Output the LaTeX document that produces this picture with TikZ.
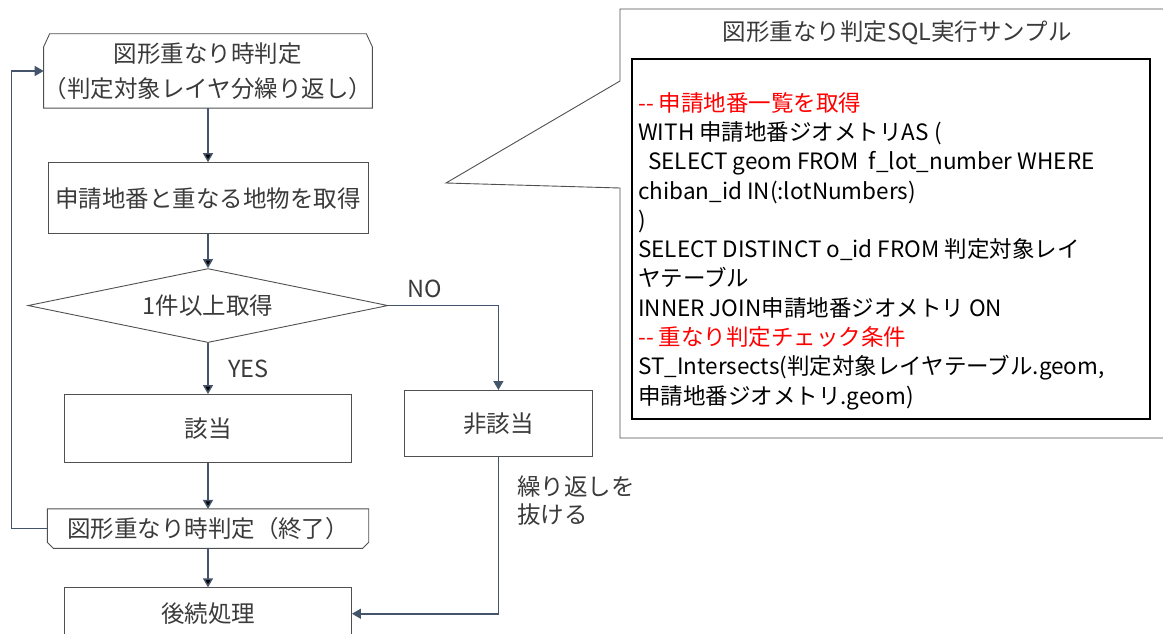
\documentclass[tikz,border=0pt]{standalone}
\usepackage{xcolor}
\usepackage{fontspec}
\setmainfont{Noto Sans CJK JP}
\usetikzlibrary{positioning,arrows.meta,shapes.geometric}

\definecolor{linkblue}{HTML}{44546A}
\definecolor{boxgray}{HTML}{505050}
\definecolor{txtgray}{HTML}{3A3A3A}
\newcommand{\flowfont}{\fontsize{23.5}{29}\selectfont}
\newcommand{\sqlfont}{\fontsize{22.5}{29.3}\selectfont}

\begin{document}
\begin{tikzpicture}[x=1pt,y=-1pt,font=\flowfont,
    flow/.style={draw=linkblue,line width=1.5pt,-{Triangle[width=10pt,length=9pt]}},
    boxline/.style={draw=boxgray,line width=0.9pt},
    proc/.style={boxline,text=txtgray,minimum width=287pt,minimum height=68pt,inner sep=0pt},
    loopbox/.style={text=txtgray,minimum width=321pt,inner sep=0pt,align=center},
    decision/.style={diamond,boxline,text=txtgray,minimum width=360pt,minimum height=74pt,aspect=4.86,inner sep=0pt},
    edgelabel/.style={text=txtgray}]
  \tikzstyle{every node}=[text=txtgray]
  \useasboundingbox (0,0) rectangle (1163,634);
  \clip (0,0) rectangle (1163,634);

  \node[loopbox,minimum height=74pt,font=\fontsize{23.5}{35}\selectfont] (loopstart) at (208,71) {図形重なり時判定\\（判定対象レイヤ分繰り返し）};
  \node[proc,minimum width=320pt,minimum height=71pt,below=54pt of loopstart] (fetch) {申請地番と重なる地物を取得};
  \node[decision,below=34pt of fetch] (check) {1件以上取得};
  \node[proc,below=51pt of check] (hit) {該当};
  \node[proc,minimum width=188pt,minimum height=66pt,right=52pt of hit,yshift=5pt] (miss) {非該当};
  \node[loopbox,minimum height=39pt,below=46pt of hit] (loopend) {図形重なり時判定（終了）};
  \node[proc,minimum height=52pt,below=39pt of loopend] (post) {後続処理};

  \draw[boxline] ([yshift=-13pt]loopstart.north west) -- ([xshift=6pt]loopstart.north west)
    -- ([xshift=-6pt]loopstart.north east) -- ([yshift=-13pt]loopstart.north east)
    -- (loopstart.south east) -- (loopstart.south west) -- cycle;
  \draw[boxline] (loopend.north west) -- (loopend.north east)
    -- ([yshift=6pt]loopend.south east) -- ([xshift=-6pt]loopend.south east)
    -- ([xshift=6pt]loopend.south west) -- ([yshift=6pt]loopend.south west) -- cycle;

  \path[flow]
  (loopstart) edge (fetch)
  (fetch)     edge (check)
  (check)     edge node[edgelabel,right=16pt] {YES} (hit)
  (hit)       edge (loopend)
  (loopend)   edge (post);
  \draw[flow] (check.east) -| node[edgelabel,above right,pos=0.07,yshift=4pt] {NO} (miss);
  \draw[flow] (miss) |- node[edgelabel,right=15pt,pos=0.14,align=left,font=\fontsize{23.5}{28}\selectfont] {繰り返しを\\抜ける} (post);
  \draw[flow] (loopend.west) -- ++(-36,0) |- (loopstart.west);

  \coordinate (tip) at (446,183);
  \draw[boxline] (1175,9) -- (620,9) -- (620,81) -- (tip) -- (620,188) -- (620,438) -- (1175,438);
  \node (sqltitle) at (897,33) {図形重なり判定SQL実行サンプル};
  \node[draw=black,line width=1.6pt,minimum width=518pt,minimum height=360pt] (sqlbox) at (891,239) {};
  \node[anchor=north west,align=left,inner sep=0pt,text=black,font=\sqlfont] (sqltext) at (638,92) {%
    \textcolor{red}{-{}- 申請地番一覧を取得}\\
    WITH 申請地番ジオメトリAS (\\
    \hspace*{10pt}SELECT geom FROM\ \ f\_lot\_number WHERE\\
    chiban\_id IN(:lotNumbers)\\
    )\\
    SELECT DISTINCT o\_id FROM 判定対象レイ\\
    ヤテーブル\\
    INNER JOIN申請地番ジオメトリ ON\\
    \textcolor{red}{-{}- 重なり判定チェック条件}\\
    ST\_Intersects(判定対象レイヤテーブル.geom,\\
    申請地番ジオメトリ.geom)};
\end{tikzpicture}
\end{document}
